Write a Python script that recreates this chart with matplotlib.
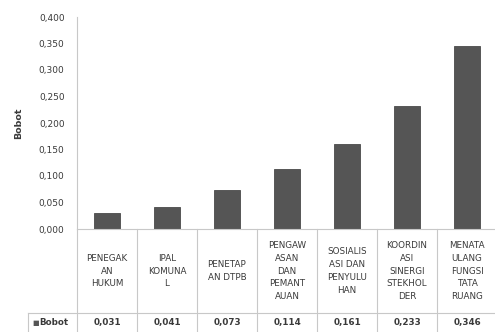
import matplotlib.pyplot as plt
import matplotlib.transforms as mtransforms

categories = [
    'PENEGAK\nAN\nHUKUM',
    'IPAL\nKOMUNA\nL',
    'PENETAP\nAN DTPB',
    'PENGAW\nASAN\nDAN\nPEMANT\nAUAN',
    'SOSIALIS\nASI DAN\nPENYULU\nHAN',
    'KOORDIN\nASI\nSINERGI\nSTEKHOL\nDER',
    'MENATA\nULANG\nFUNGSI\nTATA\nRUANG',
]
bobot = [0.031, 0.041, 0.073, 0.114, 0.161, 0.233, 0.346]
yticks = [0.0, 0.05, 0.10, 0.15, 0.20, 0.25, 0.30, 0.35, 0.40]

W, H = 495, 332
fig = plt.figure(figsize=(W / 100, H / 100), dpi=100)

# plot area in pixels: x 77..497, y 17..229
ax = fig.add_axes([77 / W, (H - 229) / H, 420 / W, 212 / H])

x = list(range(len(bobot)))
ax.bar(x, bobot, width=0.42, color='#555555', edgecolor='#4a4a4a', linewidth=0.6)

ax.set_xlim(-0.5, len(bobot) - 0.5)
ax.set_ylim(0, 0.4)
ax.set_yticks(yticks)
ax.set_yticklabels([f'{v:.3f}'.replace('.', ',') for v in yticks],
                   fontsize=6.5, color='#3a3a3a')
ax.tick_params(axis='y', length=0, pad=9)
ax.set_xticks([])

for s in ['top', 'right']:
    ax.spines[s].set_visible(False)
ax.spines['left'].set_color('#c8c8c8')
ax.spines['bottom'].set_color('#c8c8c8')
ax.spines['left'].set_linewidth(0.8)
ax.spines['bottom'].set_linewidth(0.8)

ax.set_ylabel('Bobot', fontsize=6.8, fontweight='bold', color='#3a3a3a', labelpad=11)

# data table below the axis
trans = mtransforms.blended_transform_factory(ax.transData, ax.transAxes)
px = 1 / 212  # one pixel in axes fraction (vertical)
y_row = -84 * px     # line under category labels
y_bot = -105 * px    # bottom of image
left_x = -0.5 - 49 / 60
line_kw = dict(color='#c8c8c8', lw=0.8, transform=trans, clip_on=False)

for k in range(len(bobot) + 1):
    ax.plot([k - 0.5, k - 0.5], [0, y_bot], **line_kw)
ax.plot([left_x, len(bobot) - 0.5], [y_row, y_row], **line_kw)
ax.plot([left_x, left_x], [y_row, y_bot], **line_kw)

for k, (cat, val) in enumerate(zip(categories, bobot)):
    ax.text(k, y_row / 2, cat, transform=trans, ha='center', va='center',
            fontsize=6.3, color='#3a3a3a', linespacing=1.55)
    ax.text(k, (y_row + y_bot) / 2 + 1 * px, f'{val:.3f}'.replace('.', ','),
            transform=trans, ha='center', va='center',
            fontsize=6.3, color='#3a3a3a', fontweight='bold')

ax.text(left_x + 4 / 60, (y_row + y_bot) / 2 + 1 * px, '\u25a0', transform=trans,
        ha='left', va='center', fontsize=5, color='#555555')
ax.text(left_x + 11 / 60, (y_row + y_bot) / 2 + 1 * px, 'Bobot', transform=trans,
        ha='left', va='center', fontsize=6.3, color='#3a3a3a', fontweight='bold')

fig.savefig('out.png', dpi=100)
